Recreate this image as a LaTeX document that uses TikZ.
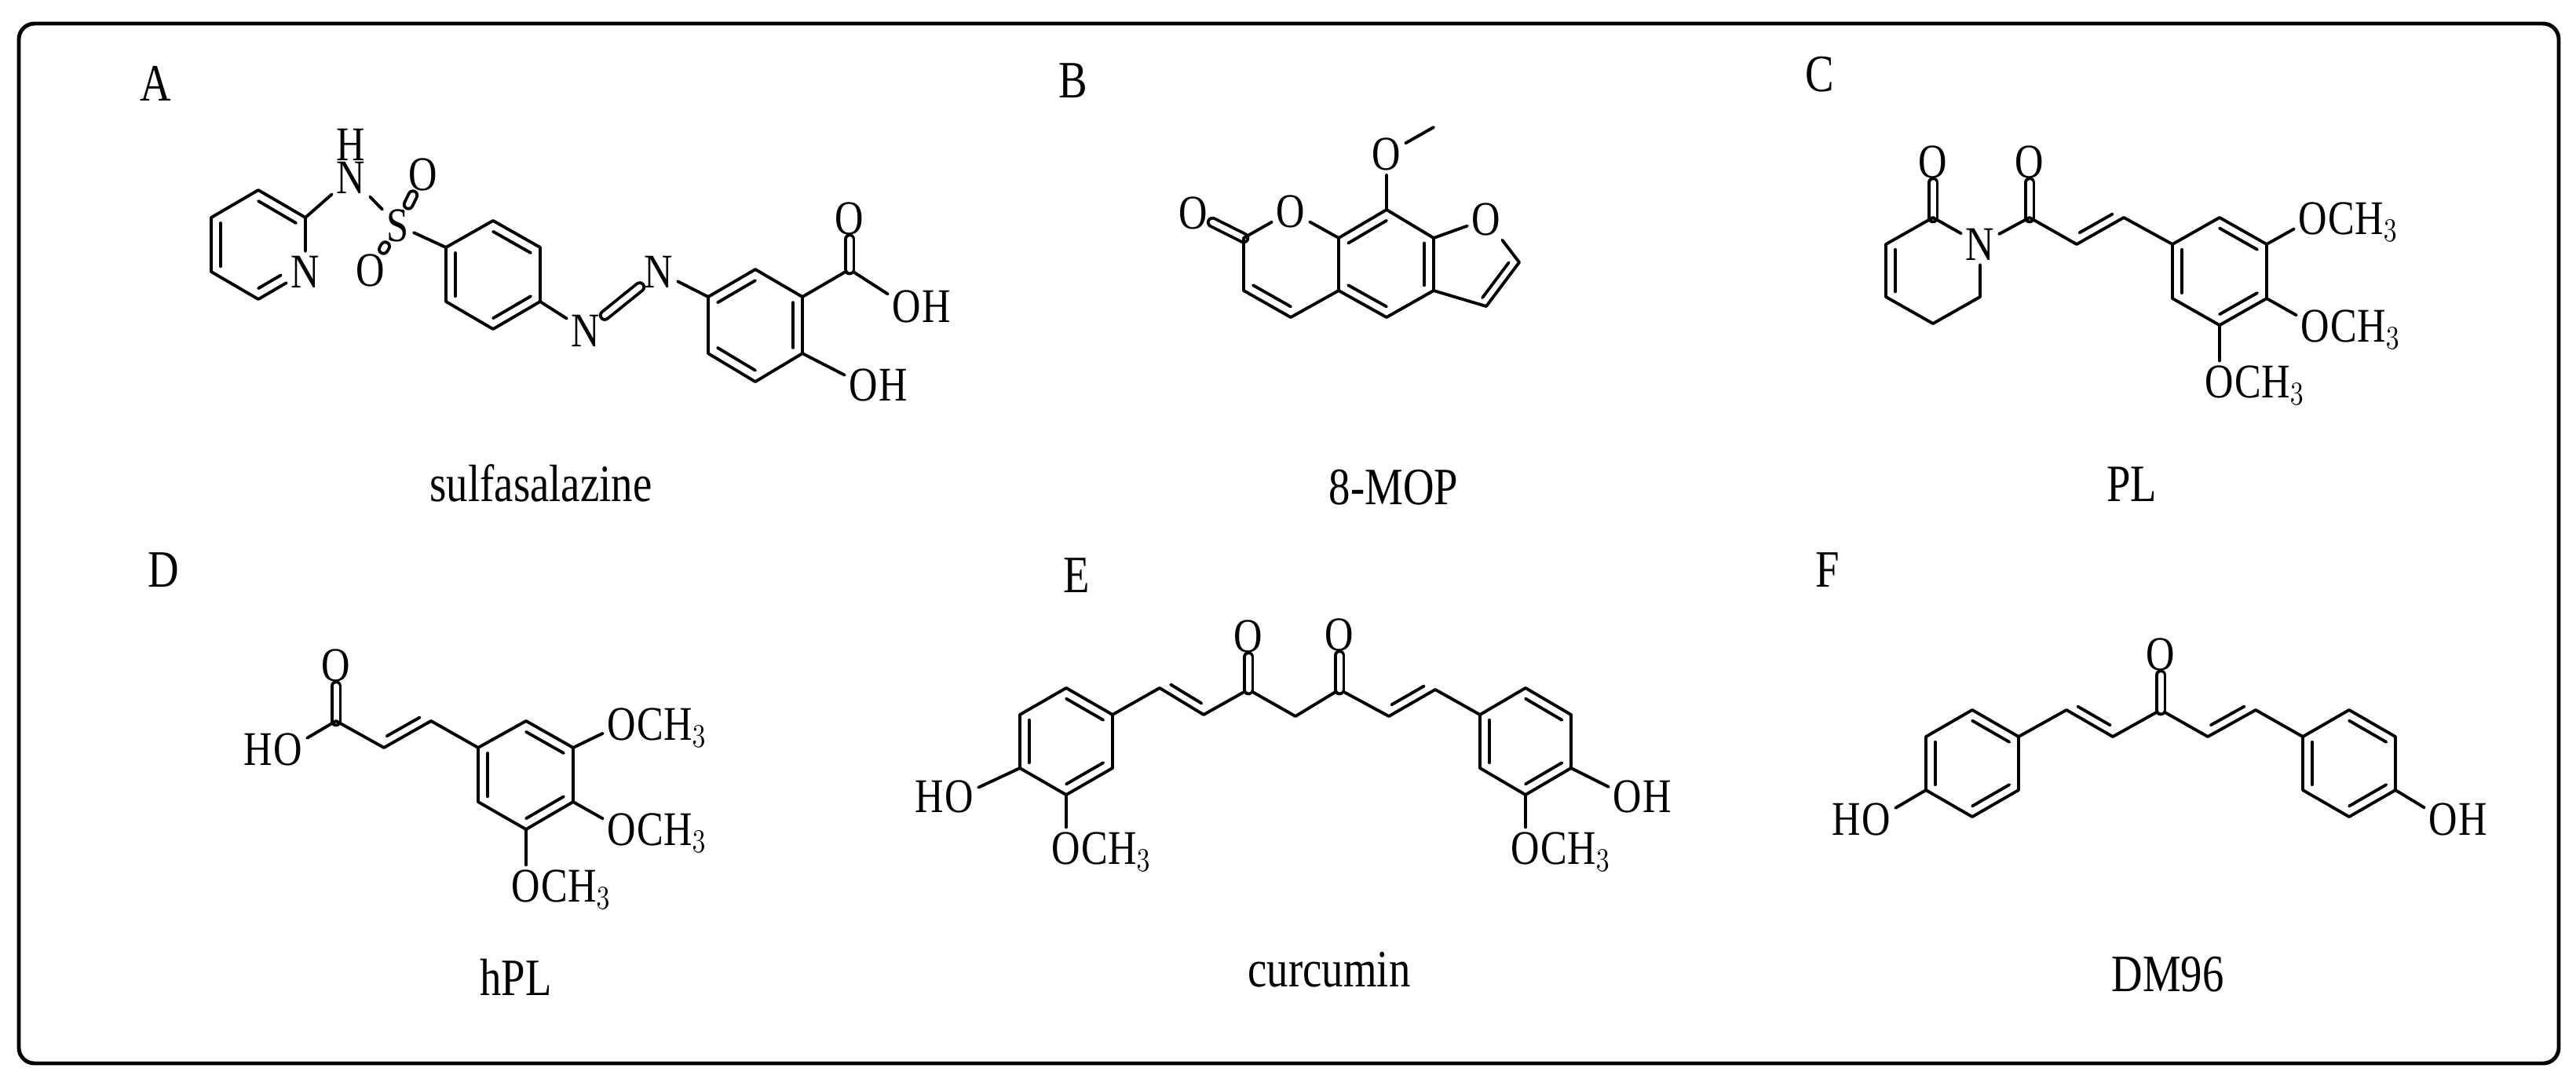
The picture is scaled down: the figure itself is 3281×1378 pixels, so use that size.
\documentclass[tikz,border=0pt]{standalone}
\usepackage{fontspec}
\usepackage{graphicx}
\setmainfont{Liberation Serif}
\usetikzlibrary{calc}
\newcommand\cz[1]{\scalebox{0.82}[1]{#1}}
\tikzset{
  bond/.style={line width=1.1pt, line cap=round, line join=round},
  atm/.style={inner sep=1.5pt, font=\fontsize{17.5}{17.5}\selectfont},
  sub/.style={inner sep=0pt, font=\fontsize{17.5}{17.5}\selectfont},
  lbl/.style={font=\fontsize{19}{19}\selectfont},
  nm/.style={font=\fontsize{19}{19}\selectfont},
  dbl/.style={bond, double distance=0.07cm},
}
\newcommand\myib[3]{\draw[bond] ($(#1)!0.2!(#3)$) -- ($(#2)!0.2!(#3)$);}
\newcommand\mysb[2]{\draw[bond] ($(#1)!0.15!(#2)!0.11cm!90:(#2)$) -- ($(#2)!0.15!(#1)!0.11cm!-90:(#1)$);}
\newcommand\OCH[2]{\node[atm] (#1) at (#2) {\cz{O}};\node[sub,anchor=base west,xshift=-1.5pt] at (#1.base east) {\cz{CH$_3$}};}
\newcommand\OHr[2]{\node[atm] (#1) at (#2) {\cz{O}};\node[sub,anchor=base west,xshift=-1.5pt] at (#1.base east) {\cz{H}};}
\newcommand\HOl[2]{\node[atm] (#1) at (#2) {\cz{O}};\node[sub,anchor=base east,xshift=1.5pt] at (#1.base west) {\cz{H}};}
\newcommand\AT[3]{\node[atm] (#1) at (#2) {\cz{#3}};}
\begin{document}
\begin{tikzpicture}[x=0.01cm,y=-0.01cm]
\useasboundingbox (0,0) rectangle (3281,1378);
\draw[line width=1.4pt, rounded corners=0.2cm] (24,30) rectangle (3259,1354);
% ---------------- A
\node[lbl] (LA) at (198,106) {\cz{A}};
\node[nm] (nA) at (689,615) {\cz{sulfasalazine}};
\coordinate (a1) at (329,242); \coordinate (a2) at (389,277);
\AT{aN}{389,346}{N}
\coordinate (a4) at (329,381); \coordinate (a5) at (269,346); \coordinate (a6) at (269,277);
\coordinate (ac) at (329,312);
\draw[bond] (a4) -- (a5) -- (a6) -- (a1) -- (a2) -- (aN) -- (a4);
\myib{a1}{a2}{ac} \myib{a5}{a6}{ac}
\draw[bond] ($(a4)!0.2!(ac)$) -- ($($(a4)!0.2!(ac)$)!0.6!($(aN)!0.2!(ac)$)$);
\AT{aNH}{447,226}{N}
\AT{aH}{447,184}{H}
\AT{aS}{507,287}{S}
\AT{aO1}{539,222}{O}
\AT{aO2}{472,344}{O}
\draw[bond] (a2) -- (aNH); \draw[bond] (aNH) -- (aS);
\draw[dbl] (aS) -- (aO1); \draw[dbl] (aS) -- (aO2);
\coordinate (b1) at (628,281); \coordinate (b2) at (688,315); \coordinate (b3) at (688,384);
\coordinate (b4) at (628,419); \coordinate (b5) at (568,384); \coordinate (b6) at (568,315);
\coordinate (bc) at (628,350);
\draw[bond] (b1) -- (b2) -- (b3) -- (b4) -- (b5) -- (b6) -- cycle;
\myib{b1}{b2}{bc} \myib{b5}{b6}{bc} \myib{b3}{b4}{bc}
\draw[bond] (aS) -- (b6);
\AT{aN1}{746,421}{N}
\AT{aN2}{839,346}{N}
\draw[bond] (b3) -- (aN1); \draw[dbl] (aN1) -- (aN2);
\coordinate (c1) at (902,378); \coordinate (c2) at (962,343); \coordinate (c3) at (1022,378);
\coordinate (c4) at (1022,450); \coordinate (c5) at (962,486); \coordinate (c6) at (902,450);
\coordinate (cc) at (962,414);
\draw[bond] (c1) -- (c2) -- (c3) -- (c4) -- (c5) -- (c6) -- cycle;
\myib{c1}{c2}{cc} \myib{c3}{c4}{cc} \myib{c5}{c6}{cc}
\draw[bond] (aN2) -- (c1);
\coordinate (ac1) at (1082,343);
\AT{aO3}{1082,278}{O}
\OHr{aO4}{1155,390}
\OHr{aO5}{1100,490}
\draw[bond] (c3) -- (ac1) -- (aO4); \draw[dbl] (ac1) -- (aO3);
\draw[bond] (c4) -- (aO5);
% ---------------- B
\node[lbl] (LB) at (1367,103) {\cz{B}};
\node[nm] (nB) at (1775,621) {\cz{8-MOP}};
\AT{bO1}{1520,271}{O}
\coordinate (d2) at (1584,303);
\AT{bO2}{1644,269}{O}
\coordinate (d8a) at (1705,303); \coordinate (d8) at (1766,267);
\AT{bO3}{1766,196}{O}
\coordinate (dme) at (1826,162);
\coordinate (d7a) at (1826,303);
\AT{bO4}{1893,279}{O}
\coordinate (df2) at (1935,334); \coordinate (df3) at (1893,390);
\coordinate (d3a) at (1826,370); \coordinate (d5) at (1766,404);
\coordinate (d4a) at (1705,370); \coordinate (d4) at (1644,404); \coordinate (d3) at (1584,370);
\coordinate (dcp) at (1644,336); \coordinate (dcb) at (1766,336); \coordinate (dcf) at (1868,336);
\draw[dbl] (bO1) -- (d2);
\draw[bond] (d2) -- (bO2) -- (d8a);
\draw[bond] (d8a) -- (d8) -- (d7a) -- (d3a) -- (d5) -- (d4a) -- (d8a);
\draw[bond] (d4a) -- (d4) -- (d3) -- (d2);
\draw[bond] (d7a) -- (bO4) -- (df2) -- (df3) -- (d3a);
\draw[bond] (d8) -- (bO3) -- (dme);
\myib{d3}{d4}{dcp} \myib{d8a}{d8}{dcb} \myib{d7a}{d3a}{dcb} \myib{d4a}{d5}{dcb}
\myib{df2}{df3}{dcf}
% ---------------- C
\node[lbl] (LC) at (2318,95) {\cz{C}};
\node[nm] (nC) at (2715,617) {\cz{PL}};
\AT{cO1}{2462,206}{O}
\coordinate (e2) at (2462,277);
\AT{cN}{2522,311}{N}
\coordinate (e6) at (2522,378); \coordinate (e5) at (2462,412);
\coordinate (e4) at (2402,378); \coordinate (e3) at (2402,311);
\coordinate (ec) at (2462,345);
\draw[dbl] (cO1) -- (e2);
\draw[bond] (cN) -- (e2) -- (e3) -- (e4) -- (e5) -- (e6) -- (cN);
\myib{e3}{e4}{ec}
\AT{cO2}{2585,206}{O}
\coordinate (ecc) at (2585,277); \coordinate (eal1) at (2645,311); \coordinate (eal2) at (2705,277);
\draw[dbl] (cO2) -- (ecc);
\draw[bond] (cN) -- (ecc) -- (eal1) -- (eal2);
\mysb{eal1}{eal2}
\coordinate (f1) at (2767,311); \coordinate (f2) at (2827,277); \coordinate (f3) at (2887,311);
\coordinate (f4) at (2887,380); \coordinate (f5) at (2827,414); \coordinate (f6) at (2767,380);
\coordinate (fc) at (2827,345);
\draw[bond] (eal2) -- (f1);
\draw[bond] (f1) -- (f2) -- (f3) -- (f4) -- (f5) -- (f6) -- cycle;
\myib{f2}{f3}{fc} \myib{f4}{f5}{fc} \myib{f6}{f1}{fc}
\OCH{cO3}{2946,278} \OCH{cO4}{2949,415} \OCH{cO5}{2827,486}
\draw[bond] (f3) -- (cO3); \draw[bond] (f4) -- (cO4); \draw[bond] (f5) -- (cO5);
% ---------------- D
\node[lbl] (LD) at (208,726) {\cz{D}};
\node[nm] (nD) at (657,1244) {\cz{hPL}};
\AT{gO1}{428,847}{O}
\coordinate (gc) at (428,918);
\HOl{gO2}{367,954}
\coordinate (gal1) at (489,952); \coordinate (gal2) at (549,918);
\draw[dbl] (gO1) -- (gc);
\draw[bond] (gO2) -- (gc) -- (gal1) -- (gal2);
\mysb{gal1}{gal2}
\coordinate (h1) at (609,952); \coordinate (h2) at (670,918); \coordinate (h3) at (730,952);
\coordinate (h4) at (730,1021); \coordinate (h5) at (670,1056); \coordinate (h6) at (609,1021);
\coordinate (hc) at (670,987);
\draw[bond] (gal2) -- (h1);
\draw[bond] (h1) -- (h2) -- (h3) -- (h4) -- (h5) -- (h6) -- cycle;
\myib{h2}{h3}{hc} \myib{h4}{h5}{hc} \myib{h6}{h1}{hc}
\OCH{gO3}{792,922} \OCH{gO4}{792,1056} \OCH{gO5}{670,1128}
\draw[bond] (h3) -- (gO3); \draw[bond] (h4) -- (gO4); \draw[bond] (h5) -- (gO5);
% ---------------- E
\node[lbl] (LE) at (1371,733) {\cz{E}};
\node[nm] (nE) at (1693,1235) {\cz{curcumin}};
\coordinate (i1) at (1417,910); \coordinate (i2) at (1358,876); \coordinate (i3) at (1299,910);
\coordinate (i4) at (1299,978); \coordinate (i5) at (1358,1012); \coordinate (i6) at (1417,978);
\coordinate (ic) at (1358,944);
\draw[bond] (i1) -- (i2) -- (i3) -- (i4) -- (i5) -- (i6) -- cycle;
\myib{i1}{i2}{ic} \myib{i3}{i4}{ic} \myib{i5}{i6}{ic}
\HOl{kO1}{1222,1014} \OCH{kO2}{1358,1080}
\draw[bond] (i4) -- (kO1); \draw[bond] (i5) -- (kO2);
\coordinate (k1) at (1477,876); \coordinate (k2) at (1533,910); \coordinate (k3) at (1590,878);
\coordinate (k4) at (1650,912); \coordinate (k5) at (1706,878); \coordinate (k6) at (1769,912);
\coordinate (k7) at (1828,878);
\AT{kO3}{1590,810}{O}
\AT{kO4}{1706,808}{O}
\draw[bond] (i1) -- (k1) -- (k2) -- (k3) -- (k4) -- (k5) -- (k6) -- (k7);
\mysb{k1}{k2} \mysb{k6}{k7}
\draw[dbl] (k3) -- (kO3); \draw[dbl] (k5) -- (kO4);
\coordinate (j1) at (1885,910); \coordinate (j2) at (1943,876); \coordinate (j3) at (2001,910);
\coordinate (j4) at (2001,978); \coordinate (j5) at (1943,1012); \coordinate (j6) at (1885,978);
\coordinate (jc) at (1943,944);
\draw[bond] (k7) -- (j1);
\draw[bond] (j1) -- (j2) -- (j3) -- (j4) -- (j5) -- (j6) -- cycle;
\myib{j2}{j3}{jc} \myib{j4}{j5}{jc} \myib{j6}{j1}{jc}
\OHr{kO5}{2073,1014} \OCH{kO6}{1943,1080}
\draw[bond] (j4) -- (kO5); \draw[bond] (j5) -- (kO6);
% ---------------- F
\node[lbl] (LF) at (2328,726) {\cz{F}};
\node[nm] (nF) at (2761,1241) {\cz{DM96}};
\coordinate (m1) at (2571,938); \coordinate (m2) at (2512,904); \coordinate (m3) at (2453,938);
\coordinate (m4) at (2453,1006); \coordinate (m5) at (2512,1040); \coordinate (m6) at (2571,1006);
\coordinate (mc) at (2512,972);
\draw[bond] (m1) -- (m2) -- (m3) -- (m4) -- (m5) -- (m6) -- cycle;
\myib{m1}{m2}{mc} \myib{m3}{m4}{mc} \myib{m5}{m6}{mc}
\HOl{pO1}{2390,1043}
\draw[bond] (m4) -- (pO1);
\coordinate (p1) at (2632,904); \coordinate (p2) at (2691,938); \coordinate (p3) at (2752,904);
\coordinate (p4) at (2812,938); \coordinate (p5) at (2873,904);
\AT{pO2}{2752,833}{O}
\draw[bond] (m1) -- (p1) -- (p2) -- (p3) -- (p4) -- (p5);
\mysb{p1}{p2} \mysb{p4}{p5}
\draw[dbl] (p3) -- (pO2);
\coordinate (q1) at (2933,938); \coordinate (q2) at (2992,904); \coordinate (q3) at (3051,938);
\coordinate (q4) at (3051,1006); \coordinate (q5) at (2992,1040); \coordinate (q6) at (2933,1006);
\coordinate (qc) at (2992,972);
\draw[bond] (p5) -- (q1);
\draw[bond] (q1) -- (q2) -- (q3) -- (q4) -- (q5) -- (q6) -- cycle;
\myib{q2}{q3}{qc} \myib{q4}{q5}{qc} \myib{q6}{q1}{qc}
\OHr{pO3}{3112,1043}
\draw[bond] (q4) -- (pO3);
\end{tikzpicture}
\end{document}
